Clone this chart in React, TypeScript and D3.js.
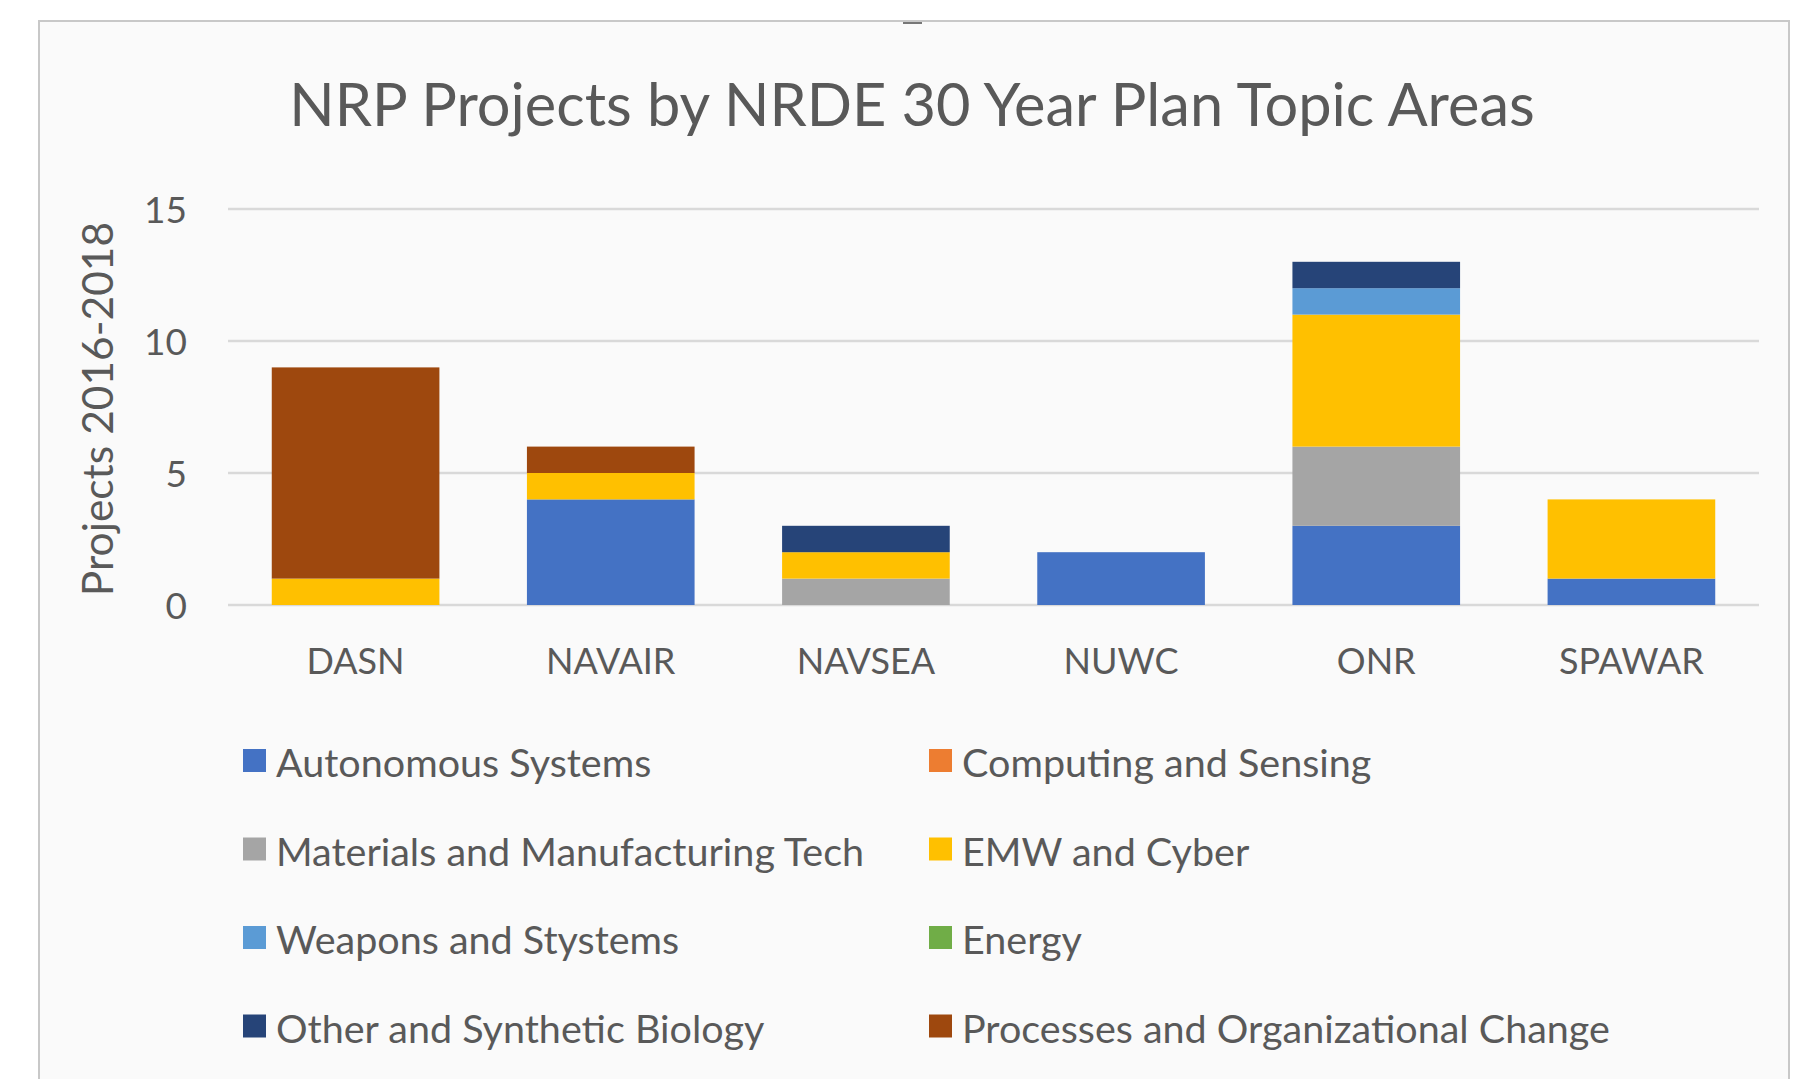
import React, { useEffect, useRef } from 'react'
import * as d3 from 'd3'

const categories = ['DASN', 'NAVAIR', 'NAVSEA', 'NUWC', 'ONR', 'SPAWAR']
const topics = [
  'Autonomous Systems',
  'Computing and Sensing',
  'Materials and Manufacturing Tech',
  'EMW and Cyber',
  'Weapons and Stystems',
  'Energy',
  'Other and Synthetic Biology',
  'Processes and Organizational Change',
]
const topicColors = ['#4472C4', '#ED7D31', '#A5A5A5', '#FFC000', '#5B9BD5', '#70AD47', '#264478', '#9E480E']

// one array per topic, values in category order
const autonomous = [0, 4, 0, 2, 3, 1]
const computing = [0, 0, 0, 0, 0, 0]
const materials = [0, 0, 1, 0, 3, 0]
const emw = [1, 1, 1, 0, 5, 3]
const weapons = [0, 0, 0, 0, 1, 0]
const energy = [0, 0, 0, 0, 0, 0]
const other = [0, 0, 1, 0, 1, 0]
const processes = [8, 1, 0, 0, 0, 0]
const seriesValues = [autonomous, computing, materials, emw, weapons, energy, other, processes]

const yTicks = [0, 5, 10, 15]

const W = 1803
const H = 1079
const FONT = 'Lato, "Open Sans", sans-serif'
const TEXT = '#595959'

const App = () => {
  const ref = useRef(null)

  useEffect(() => {
    const svg = d3.select(ref.current)
    svg.selectAll('*').remove()

    // chart frame
    svg.append('rect').attr('x', 0).attr('y', 0).attr('width', W).attr('height', H).attr('fill', '#fff')
    svg.append('rect')
      .attr('x', 39).attr('y', 21).attr('width', 1750).attr('height', H)
      .attr('fill', '#fafafa').attr('stroke', '#c8c8c8').attr('stroke-width', 2)
    svg.append('line').attr('x1', 903).attr('x2', 922).attr('y1', 23).attr('y2', 23)
      .attr('stroke', '#777').attr('stroke-width', 2)

    svg.append('text')
      .attr('x', 912).attr('y', 126)
      .attr('text-anchor', 'middle')
      .style('font-family', FONT).style('font-size', '59.5px').attr('fill', TEXT)
      .text('NRP Projects by NRDE 30 Year Plan Topic Areas')

    const x = d3.scaleBand().domain(categories).range([228, 1759]).paddingInner(0.343).paddingOuter(0.1715)
    const y = d3.scaleLinear().domain([0, 15]).range([605, 209])

    // gridlines
    svg.append('g').selectAll('line').data(yTicks).enter().append('line')
      .attr('x1', 228).attr('x2', 1759)
      .attr('y1', d => y(d)).attr('y2', d => y(d))
      .attr('stroke', '#d9d9d9').attr('stroke-width', 2.5)

    // tick labels
    svg.append('g').selectAll('text').data(yTicks).enter().append('text')
      .attr('x', 187).attr('y', d => y(d) + 14)
      .attr('text-anchor', 'end')
      .style('font-family', FONT).style('font-size', '37px').attr('fill', TEXT)
      .text(d => d)

    // y axis title
    svg.append('text')
      .attr('transform', 'translate(113,409) rotate(-90)')
      .attr('text-anchor', 'middle')
      .style('font-family', FONT).style('font-size', '42.5px').attr('fill', TEXT)
      .text('Projects 2016-2018')

    // stacked bars
    const table = categories.map((c, i) => {
      const row = { category: c }
      topics.forEach((t, j) => { row[t] = seriesValues[j][i] })
      return row
    })
    const stacked = d3.stack().keys(topics)(table)
    svg.append('g').selectAll('g').data(stacked).enter().append('g')
      .attr('fill', (d, i) => topicColors[i])
      .selectAll('rect').data(d => d).enter().append('rect')
      .attr('x', d => x(d.data.category))
      .attr('width', x.bandwidth())
      .attr('y', d => y(d[1]))
      .attr('height', d => y(d[0]) - y(d[1]))

    // category labels
    svg.append('g').selectAll('text').data(categories).enter().append('text')
      .attr('x', d => x(d) + x.bandwidth() / 2).attr('y', 674)
      .attr('text-anchor', 'middle')
      .style('font-family', FONT).style('font-size', '36px').attr('fill', TEXT)
      .text(d => d)

    // legend, two columns, row-wise
    const legend = svg.append('g').selectAll('g').data(topics).enter().append('g')
      .attr('transform', (d, i) => `translate(${i % 2 === 0 ? 243 : 929},${761 + Math.floor(i / 2) * 88.5})`)
    legend.append('rect')
      .attr('x', 0).attr('y', -12).attr('width', 23).attr('height', 23)
      .attr('fill', (d, i) => topicColors[i])
    legend.append('text')
      .attr('x', 33).attr('y', 16)
      .style('font-family', FONT).style('font-size', '39.5px').attr('fill', TEXT)
      .text(d => d)
  }, [])

  return (
    <svg ref={ref} width={W} height={H} style={{ position: 'absolute', left: 0, top: 0, display: 'block' }} />
  )
}

export default App
